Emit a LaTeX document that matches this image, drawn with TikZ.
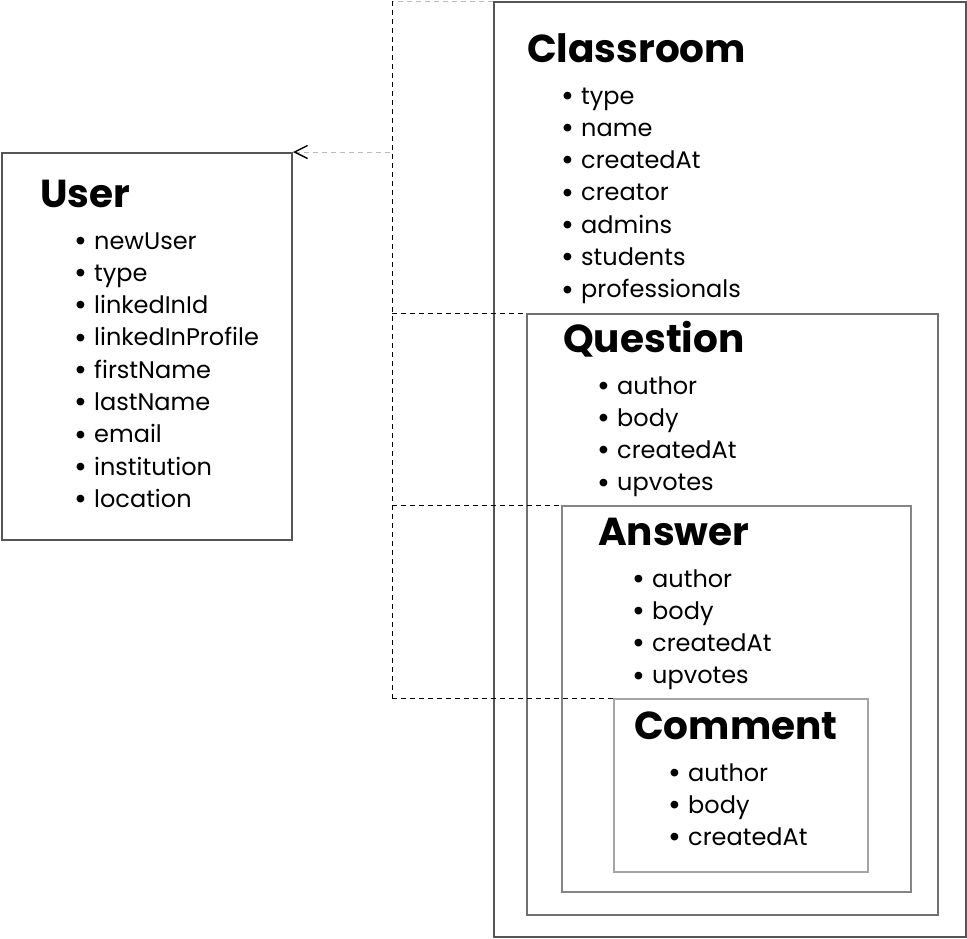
\documentclass[tikz,border=0pt]{standalone}
\usepackage{fontspec}
\setmainfont{Poppins}
\usetikzlibrary{arrows.meta}
\definecolor{boxA}{HTML}{555555}
\definecolor{boxB}{HTML}{707070}
\definecolor{boxC}{HTML}{858585}
\definecolor{boxD}{HTML}{A5A5A5}
\definecolor{dashgray}{HTML}{BBBBBB}
\tikzset{
  entity/.style={draw, line width=2pt, anchor=north west, inner sep=0pt, fill=none},
  title/.style={anchor=base west, inner sep=0pt, font=\fontsize{39}{42}\selectfont\bfseries},
  item/.style={anchor=base west, inner sep=0pt, font=\fontsize{24}{27}\selectfont},
  link/.style={dashed, dash pattern=on 5pt off 4pt, line width=1pt, black},
  softlink/.style={dashed, dash pattern=on 5pt off 4pt, line width=1pt, dashgray},
}
\newcommand{\itm}[1]{\makebox[18pt][l]{\hspace{-1.5pt}\raisebox{-2.3pt}{\scalebox{1.3}{•}}}#1}
\begin{document}
\begin{tikzpicture}[x=1pt,y=-1pt]
\useasboundingbox (0,0) rectangle (967,938);
% boxes
\node[entity, draw=boxA, minimum width=472pt, minimum height=935pt] (classroom) at (493,1) {};
\node[entity, draw=boxA, minimum width=290pt, minimum height=387pt] (user) at (1,152) {};
\node[entity, draw=boxB, minimum width=411pt, minimum height=601pt] (question) at (526,313) {};
\node[entity, draw=boxC, minimum width=349pt, minimum height=386pt] (answer) at (561,505) {};
\node[entity, draw=boxD, minimum width=254pt, minimum height=173pt] (comment) at (613,698) {};
% junction coordinates
\coordinate (j0) at (392,1);
\coordinate (j1) at (392,152);
\coordinate (j2) at (392,313);
\coordinate (j3) at (392,505);
\coordinate (j4) at (392,698);
% connectors
\draw[softlink] (classroom.north west) -- (j0);
\draw[link] (j0) -- (j4);
\draw[softlink, {Straight Barb[length=13pt,width=13pt,line width=1.4pt,color=black]}-] (user.north east) -- (j1);
\draw[link] (j2) -- (question.north west);
\draw[link] (j3) -- (answer.north west);
\draw[link] (j4) -- (comment.north west);
% Classroom
\node[title] (tclass) at (527,62) {Classroom};
\foreach \t [count=\i from 0] in {type,name,createdAt,creator,admins,students,professionals}
  \node[item] (c\i) at (563,104+32.3*\i) {\itm{\t}};
% User
\node[title] (tuser) at (40,207) {User};
\foreach \t [count=\i from 0] in {newUser,type,linkedInId,linkedInProfile,firstName,lastName,email,institution,location}
  \node[item] (u\i) at (76,249+32.3*\i) {\itm{\t}};
% Question
\node[title] (tq) at (563,352) {Question};
\foreach \t [count=\i from 0] in {author,body,createdAt,upvotes}
  \node[item] (q\i) at (599,394+32.3*\i) {\itm{\t}};
% Answer
\node[title] (ta) at (598,545) {Answer};
\foreach \t [count=\i from 0] in {author,body,createdAt,upvotes}
  \node[item] (a\i) at (634,587+32.3*\i) {\itm{\t}};
% Comment
\node[title] (tc) at (634,739) {Comment};
\foreach \t [count=\i from 0] in {author,body,createdAt}
  \node[item] (m\i) at (670,781+32.3*\i) {\itm{\t}};
\end{tikzpicture}
\end{document}
